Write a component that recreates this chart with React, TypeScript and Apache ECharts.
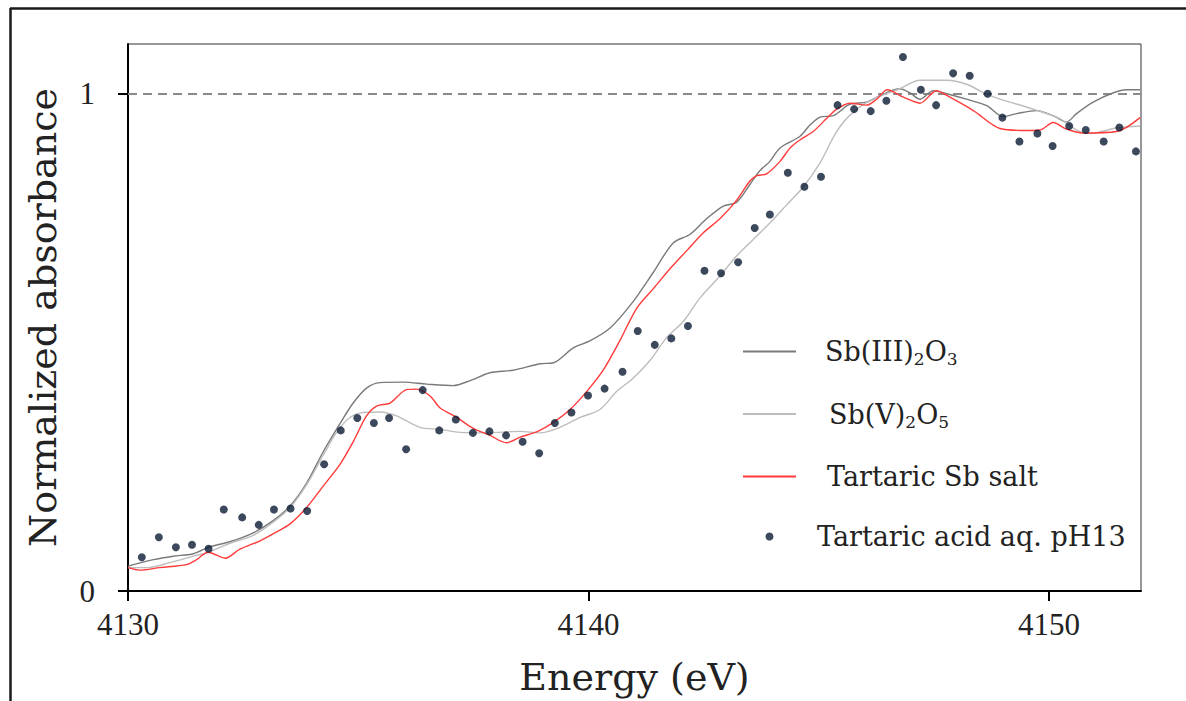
import React, { useEffect, useRef } from "react";
import * as echarts from "echarts";

// ---- data ----
const xTicks = [4130, 4140, 4150];
const yTicks = [0, 1];

const sb3Energy = [4130.0, 4130.55, 4130.98, 4131.42, 4131.78, 4132.21, 4132.72, 4133.16, 4133.52, 4133.88, 4134.24, 4134.6, 4134.89, 4135.18, 4135.47, 4135.98, 4136.49, 4137.06, 4137.43, 4137.86, 4138.37, 4138.95, 4139.24, 4139.67, 4140.03, 4140.47, 4140.97, 4141.41, 4141.84, 4142.2, 4142.57, 4142.93, 4143.22, 4143.51, 4143.72, 4143.94, 4144.16, 4144.59, 4144.81, 4145.03, 4145.32, 4145.68, 4146.04, 4146.4, 4146.76, 4146.98, 4147.2, 4147.49, 4147.7, 4148.21, 4148.65, 4149.01, 4149.3, 4149.73, 4150.09, 4150.38, 4150.6, 4150.96, 4151.4, 4151.69, 4151.98];
const sb3Abs = [0.05, 0.063, 0.07, 0.075, 0.089, 0.099, 0.117, 0.142, 0.171, 0.217, 0.28, 0.336, 0.378, 0.408, 0.419, 0.42, 0.416, 0.413, 0.423, 0.439, 0.444, 0.457, 0.459, 0.489, 0.503, 0.529, 0.582, 0.641, 0.7, 0.717, 0.749, 0.774, 0.782, 0.818, 0.845, 0.864, 0.891, 0.914, 0.937, 0.953, 0.956, 0.979, 0.983, 0.999, 1.01, 1.002, 0.989, 1.006, 1.002, 0.989, 0.976, 0.954, 0.96, 0.966, 0.956, 0.943, 0.96, 0.983, 1.002, 1.008, 1.008];

const sb5Energy = [4130.0, 4130.41, 4130.91, 4131.42, 4131.78, 4132.21, 4132.72, 4133.16, 4133.52, 4133.88, 4134.24, 4134.53, 4134.82, 4135.11, 4135.47, 4135.83, 4136.34, 4136.78, 4137.21, 4137.79, 4138.51, 4138.95, 4139.38, 4139.82, 4140.25, 4140.61, 4140.97, 4141.34, 4141.7, 4142.06, 4142.42, 4142.86, 4143.22, 4143.58, 4143.94, 4144.3, 4144.66, 4145.03, 4145.39, 4145.75, 4146.18, 4146.76, 4147.2, 4147.78, 4148.21, 4148.65, 4148.94, 4149.66, 4150.24, 4150.6, 4150.89, 4151.47, 4151.98];
const sb5Abs = [0.047, 0.047, 0.057, 0.07, 0.079, 0.096, 0.112, 0.139, 0.168, 0.214, 0.273, 0.319, 0.349, 0.359, 0.36, 0.352, 0.329, 0.325, 0.319, 0.318, 0.321, 0.318, 0.329, 0.349, 0.365, 0.401, 0.428, 0.464, 0.51, 0.542, 0.589, 0.634, 0.674, 0.707, 0.74, 0.776, 0.812, 0.861, 0.924, 0.963, 0.989, 1.01, 1.027, 1.027, 1.019, 0.999, 0.989, 0.969, 0.95, 0.927, 0.92, 0.931, 0.935];

const saltEnergy = [4130.0, 4130.26, 4130.69, 4131.27, 4131.49, 4131.74, 4132.11, 4132.43, 4132.87, 4133.23, 4133.52, 4133.88, 4134.24, 4134.6, 4134.89, 4135.18, 4135.4, 4135.69, 4136.05, 4136.27, 4136.56, 4136.78, 4137.14, 4137.5, 4137.86, 4138.22, 4138.51, 4138.9, 4139.24, 4139.6, 4139.96, 4140.32, 4140.68, 4141.05, 4141.41, 4141.77, 4142.13, 4142.49, 4142.86, 4143.22, 4143.51, 4143.65, 4143.87, 4144.16, 4144.38, 4144.59, 4144.88, 4145.17, 4145.39, 4145.68, 4146.04, 4146.26, 4146.49, 4146.84, 4147.2, 4147.56, 4147.85, 4148.36, 4148.94, 4149.52, 4149.81, 4150.09, 4150.38, 4150.74, 4151.47, 4151.98];
const saltAbs = [0.047, 0.042, 0.047, 0.053, 0.063, 0.078, 0.066, 0.084, 0.101, 0.119, 0.135, 0.168, 0.211, 0.254, 0.3, 0.352, 0.372, 0.378, 0.405, 0.406, 0.392, 0.368, 0.349, 0.327, 0.313, 0.298, 0.309, 0.321, 0.339, 0.365, 0.401, 0.444, 0.503, 0.569, 0.608, 0.648, 0.684, 0.72, 0.749, 0.786, 0.825, 0.835, 0.839, 0.864, 0.891, 0.907, 0.924, 0.95, 0.969, 0.981, 0.977, 0.989, 1.008, 0.993, 0.981, 1.006, 0.993, 0.966, 0.93, 0.926, 0.927, 0.942, 0.929, 0.921, 0.924, 0.952];

const acidEnergy = [4130.3, 4130.67, 4131.04, 4131.39, 4131.75, 4132.08, 4132.48, 4132.84, 4133.17, 4133.53, 4133.89, 4134.26, 4134.62, 4134.98, 4135.34, 4135.67, 4136.04, 4136.4, 4136.76, 4137.12, 4137.49, 4137.85, 4138.21, 4138.57, 4138.93, 4139.27, 4139.63, 4139.99, 4140.35, 4140.74, 4141.07, 4141.44, 4141.8, 4142.16, 4142.52, 4142.88, 4143.25, 4143.61, 4143.94, 4144.33, 4144.69, 4145.05, 4145.41, 4145.77, 4146.13, 4146.47, 4146.83, 4147.22, 4147.55, 4147.92, 4148.28, 4148.67, 4148.99, 4149.36, 4149.75, 4150.08, 4150.44, 4150.8, 4151.19, 4151.53, 4151.89];
const acidAbs = [0.068, 0.108, 0.088, 0.093, 0.085, 0.164, 0.148, 0.133, 0.164, 0.166, 0.161, 0.255, 0.323, 0.348, 0.338, 0.348, 0.285, 0.404, 0.323, 0.345, 0.318, 0.321, 0.313, 0.3, 0.277, 0.338, 0.359, 0.393, 0.407, 0.441, 0.523, 0.495, 0.508, 0.533, 0.644, 0.639, 0.661, 0.73, 0.757, 0.841, 0.813, 0.833, 0.977, 0.969, 0.965, 0.986, 1.074, 1.008, 0.977, 1.041, 1.036, 1.0, 0.952, 0.904, 0.92, 0.895, 0.935, 0.927, 0.904, 0.932, 0.884];

const seriesNames = ["Sb(III)2O3", "Sb(V)2O5", "Tartaric Sb salt", "Tartaric acid aq. pH13"];
const legendLabels: Record<string, string> = {
  "Sb(III)2O3": "{n|Sb(III)}{s|2}{n|O}{s|3}",
  "Sb(V)2O5": "{n|Sb(V)}{s|2}{n|O}{s|5}",
  "Tartaric Sb salt": "{n|Tartaric Sb salt}",
  "Tartaric acid aq. pH13": "{n|Tartaric acid aq. pH13}",
};

const zip = (xs: number[], ys: number[]) => xs.map((x, i) => [x, ys[i]]);

export default function App() {
  const ref = useRef<HTMLDivElement>(null);
  useEffect(() => {
    if (!ref.current) return;
    const chart = echarts.init(ref.current, null, { renderer: "svg" });
    const serif = "DejaVu Serif";
    const tickFont = "Liberation Serif";
    const hiddenSymbol = { opacity: 0 };
    chart.setOption({
      animation: false,
      backgroundColor: "#ffffff",
      grid: {
        left: 128,
        top: 44,
        right: 45,
        bottom: 99,
        show: true,
        borderColor: "#333",
        borderWidth: 1,
        containLabel: false,
      },
      xAxis: {
        type: "value",
        min: 4130,
        max: 4152,
        interval: 10,
        name: "Energy (eV)",
        nameLocation: "middle",
        nameGap: 67,
        nameTextStyle: { fontFamily: serif, fontSize: 38, color: "#222" },
        axisLine: { show: true, onZero: false, lineStyle: { color: "#000", width: 2 } },
        axisTick: { show: true, length: 10, lineStyle: { color: "#000", width: 2 }, customValues: xTicks },
        axisLabel: {
          customValues: xTicks,
          margin: 18,
          fontFamily: tickFont,
          fontSize: 31,
          color: "#222",
          formatter: (v: number) => String(v),
        },
        splitLine: { show: false },
      },
      yAxis: {
        type: "value",
        min: 0,
        max: 1.1,
        interval: 1,
        name: "Normalized absorbance",
        nameLocation: "middle",
        nameGap: 66,
        nameTextStyle: { fontFamily: serif, fontSize: 38, color: "#222" },
        axisLine: { show: true, onZero: false, lineStyle: { color: "#000", width: 2 } },
        axisTick: { show: true, length: 10, lineStyle: { color: "#000", width: 2 }, customValues: yTicks },
        axisLabel: {
          customValues: yTicks,
          margin: 33,
          fontFamily: tickFont,
          fontSize: 31,
          color: "#222",
          formatter: (v: number) => String(v),
        },
        splitLine: { show: false },
      },
      legend: {
        orient: "vertical",
        left: 737,
        top: 333,
        itemWidth: 53,
        itemHeight: 8,
        itemGap: 33,
        formatter: (name: string) => legendLabels[name] || name,
        textStyle: {
          fontFamily: serif,
          fontSize: 27,
          color: "#222",
          rich: {
            n: { fontFamily: serif, fontSize: 27, color: "#222", lineHeight: 32, verticalAlign: "middle" },
            s: { fontFamily: serif, fontSize: 17, color: "#222", lineHeight: 32, verticalAlign: "bottom" },
          },
        },
        data: [
          { name: seriesNames[0], itemStyle: hiddenSymbol, textStyle: { padding: [0, 0, 0, 24] } },
          { name: seriesNames[1], itemStyle: hiddenSymbol, textStyle: { padding: [0, 0, 0, 28] } },
          { name: seriesNames[2], itemStyle: hiddenSymbol, textStyle: { padding: [0, 0, 0, 26] } },
          { name: seriesNames[3], textStyle: { padding: [0, 0, 0, 16] } },
        ],
      },
      graphic: [
        { type: "line", shape: { x1: 10, y1: 8.5, x2: 1186, y2: 8.5 }, style: { stroke: "#1a1a1a", lineWidth: 2.5 } },
        { type: "line", shape: { x1: 10.5, y1: 8, x2: 10.5, y2: 701 }, style: { stroke: "#1a1a1a", lineWidth: 2.5 } },
      ],
      series: [
        {
          name: seriesNames[0],
          type: "line",
          data: zip(sb3Energy, sb3Abs),
          symbol: "none",
          smooth: 0.3,
          lineStyle: { color: "#7a7a7a", width: 1.4 },
          itemStyle: { color: "#7a7a7a" },
          markLine: {
            silent: true,
            symbol: ["none", "none"],
            label: { show: false },
            lineStyle: { color: "#8a8a8a", width: 2, type: [9, 6] },
            data: [{ yAxis: 1 }],
            z: 1,
          },
        },
        {
          name: seriesNames[1],
          type: "line",
          data: zip(sb5Energy, sb5Abs),
          symbol: "none",
          smooth: 0.3,
          lineStyle: { color: "#bdbdbd", width: 1.4 },
          itemStyle: { color: "#bdbdbd" },
        },
        {
          name: seriesNames[2],
          type: "line",
          data: zip(saltEnergy, saltAbs),
          symbol: "none",
          smooth: 0.3,
          lineStyle: { color: "#ff3b3b", width: 1.4 },
          itemStyle: { color: "#ff3b3b" },
        },
        {
          name: seriesNames[3],
          type: "scatter",
          data: zip(acidEnergy, acidAbs),
          symbol: "circle",
          symbolSize: 8,
          itemStyle: { color: "#0b1a33" },
          z: 5,
        },
      ],
    });
    return () => chart.dispose();
  }, []);
  return <div ref={ref} style={{ position: "absolute", left: 0, top: 0, width: 1186, height: 701 }} />;
}
